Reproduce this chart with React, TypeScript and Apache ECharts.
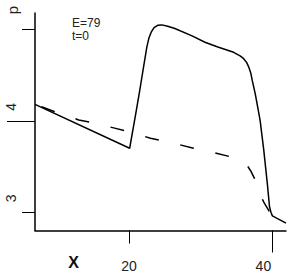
import React, { useEffect, useRef } from "react";
import * as echarts from "echarts";

// Solid curve (p vs x)
const solidX = [6.9, 20.1, 21.0, 21.5, 22.0, 22.5, 22.8, 23.1, 23.5, 24.0, 24.6, 25.4, 26.4, 28.8, 30.6, 32.3, 34.6, 35.5, 36.0, 36.4, 36.7, 37.0, 37.2, 37.6, 38.0, 38.3, 38.8, 39.3, 39.6, 39.8, 40.0, 41.9];
const solidY = [4.18, 3.7, 4.1, 4.33, 4.57, 4.81, 4.91, 4.97, 5.02, 5.045, 5.05, 5.035, 5.01, 4.93, 4.86, 4.81, 4.75, 4.71, 4.68, 4.64, 4.59, 4.52, 4.44, 4.3, 4.13, 4.0, 3.68, 3.31, 3.06, 3.0, 2.96, 2.88];
// Dashed curve
const dashX = [6.9, 10, 13, 15, 18, 20, 23, 26, 29, 32, 34.5, 36, 36.5, 37, 37.5, 38, 38.5, 38.8, 39.4, 40, 41.9];
const dashY = [4.18, 4.09, 4.01, 3.98, 3.92, 3.88, 3.81, 3.76, 3.7, 3.65, 3.6, 3.55, 3.51, 3.45, 3.37, 3.27, 3.16, 3.11, 3.03, 2.95, 2.88];

// Axis ticks / labels
const xLabelValues = [20, 40];
const xLabels = ["20", "40"];
const xShortTicks = [20];
const xLongTicks = [40];
const yLabelValues = [3, 4];
const yLabels = ["3", "4"];
const yShortTicks = [3, 5];
const yLongTicks = [4];

const xMin = 6.9;
const xMax = 41.9;
const yMin = 2.8;
const yMax = 5.18;

const FONT = "'Liberation Sans', Arial, sans-serif";

export default function App() {
  const ref = useRef<HTMLDivElement>(null);
  useEffect(() => {
    if (!ref.current) return;
    const chart = echarts.init(ref.current, null, { renderer: "svg" });
    const solid = solidX.map((x, i) => [x, solidY[i]]);
    const dashed = dashX.map((x, i) => [x, dashY[i]]);
    const xLabelOf = (v: number) => xLabels[xLabelValues.indexOf(v)] ?? String(v);
    const yLabelOf = (v: number) => yLabels[yLabelValues.indexOf(v)] ?? String(v);
    chart.setOption({
      animation: false,
      backgroundColor: "#fff",
      grid: { left: 35, right: 6, top: 13, bottom: 46.5, outerBoundsMode: "none" },
      xAxis: [
        {
          type: "value",
          min: xMin,
          max: xMax,
          position: "bottom",
          axisLine: { show: true, lineStyle: { color: "#000", width: 1.5 } },
          axisTick: { show: true, customValues: xShortTicks, length: 13, lineStyle: { color: "#000", width: 1 } },
          axisLabel: {
            show: true,
            customValues: xLabelValues,
            margin: 28,
            fontSize: 14,
            fontFamily: FONT,
            color: "#222",
            formatter: (v: number) => (v === 40 ? `{r|${xLabelOf(v)}}` : `{c|${xLabelOf(v)}}`),
            rich: {
              r: { fontSize: 14, fontFamily: FONT, color: "#222", padding: [0, 18, 0, 0] },
              c: { fontSize: 14, fontFamily: FONT, color: "#222" },
            },
          },
          splitLine: { show: false },
        },
        {
          type: "value",
          min: xMin,
          max: xMax,
          position: "bottom",
          axisLine: { show: false },
          axisTick: { show: true, customValues: xLongTicks, length: 22, lineStyle: { color: "#000", width: 1 } },
          axisLabel: { show: false },
          splitLine: { show: false },
        },
      ],
      yAxis: [
        {
          type: "value",
          min: yMin,
          max: yMax,
          position: "left",
          axisLine: { show: true, lineStyle: { color: "#000", width: 1.5 } },
          axisTick: { show: true, customValues: yShortTicks, length: 13, lineStyle: { color: "#000", width: 1 } },
          axisLabel: {
            show: true,
            customValues: yLabelValues,
            rotate: 90,
            margin: 17,
            fontSize: 14,
            fontFamily: FONT,
            color: "#222",
            padding: [0, 0, 0, 28],
            formatter: (v: number) => yLabelOf(v),
          },
          splitLine: { show: false },
        },
        {
          type: "value",
          min: yMin,
          max: yMax,
          position: "left",
          axisLine: { show: false },
          axisTick: { show: true, customValues: yLongTicks, length: 28, lineStyle: { color: "#000", width: 1 } },
          axisLabel: { show: false },
          splitLine: { show: false },
        },
      ],
      graphic: [
        {
          type: "text",
          x: 12.5,
          y: 10,
          rotation: Math.PI / 2,
          style: { text: "p", fontSize: 15, fontFamily: FONT, fill: "#222", textAlign: "center", textVerticalAlign: "middle" },
        },
        {
          type: "text",
          x: 73.5,
          y: 262,
          style: { text: "X", fontSize: 16, fontWeight: "bold", fontFamily: FONT, fill: "#111", textAlign: "center", textVerticalAlign: "middle" },
        },
        {
          type: "text",
          x: 72,
          y: 17,
          style: { text: "E=79", fontSize: 12, fontFamily: FONT, fill: "#222", textAlign: "left", textVerticalAlign: "top" },
        },
        {
          type: "text",
          x: 72,
          y: 30,
          style: { text: "t=0", fontSize: 12, fontFamily: FONT, fill: "#222", textAlign: "left", textVerticalAlign: "top" },
        },
      ],
      series: [
        {
          type: "line",
          data: solid,
          xAxisIndex: 0,
          yAxisIndex: 0,
          showSymbol: false,
          smooth: false,
          lineStyle: { color: "#000", width: 1.5 },
          silent: true,
        },
        {
          type: "line",
          data: dashed,
          xAxisIndex: 0,
          yAxisIndex: 0,
          showSymbol: false,
          smooth: false,
          lineStyle: { color: "#000", width: 1.5, type: [14, 22], dashOffset: 29 },
          silent: true,
        },
      ],
    });
    return () => chart.dispose();
  }, []);
  return <div ref={ref} style={{ position: "absolute", left: 0, top: 0, width: 292, height: 277 }} />;
}
